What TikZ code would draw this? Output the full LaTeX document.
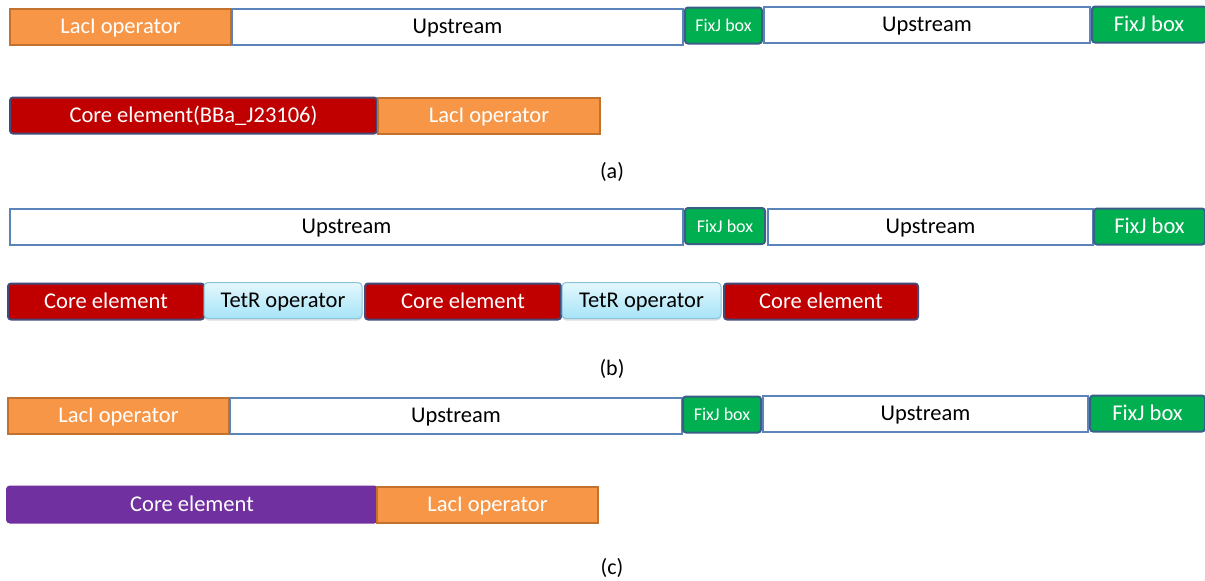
\documentclass[tikz,border=0pt]{standalone}
\usepackage{fontspec}
\setmainfont{Carlito}
\usetikzlibrary{shadows}
\definecolor{orfill}{HTML}{F79646}
\definecolor{ordraw}{HTML}{C2722E}
\definecolor{updraw}{HTML}{5A84BA}
\definecolor{grfill}{HTML}{00B050}
\definecolor{grdraw}{HTML}{3A5F86}
\definecolor{rdfill}{HTML}{C00000}
\definecolor{rddraw}{HTML}{424B78}
\definecolor{pufill}{HTML}{7030A0}
\definecolor{tetop}{HTML}{E4F7FD}
\definecolor{tebot}{HTML}{A6E4F7}
\definecolor{tedraw}{HTML}{8CC3D8}
\tikzset{
  x=1pt, y=-1pt,
  box/.style={inner sep=0pt, outer sep=0pt, line width=2pt, anchor=west,
    font=\fontsize{22.5}{26}\selectfont, text height=18pt, text depth=4pt},
  lac/.style={box, fill=orfill, draw=ordraw, text=white},
  up/.style={box, fill=white, draw=updraw, text=black},
  fixs/.style={box, fill=grfill, draw=grdraw, text=white, rounded corners=3pt,
    font=\fontsize{18}{21}\selectfont, text height=16pt, text depth=4pt},
  fixl/.style={box, fill=grfill, draw=grdraw, text=white, rounded corners=3pt},
  core/.style={box, fill=rdfill, draw=rddraw, text=white, rounded corners=3pt},
  pur/.style={box, fill=pufill, draw=pufill, text=white, rounded corners=3pt},
  tet/.style={box, top color=tetop, bottom color=tebot, draw=tedraw, text=black,
    rounded corners=4pt, line width=1pt,
    drop shadow={shadow xshift=0pt, shadow yshift=-2pt, opacity=0.25}},
  lbl/.style={inner sep=0pt, font=\fontsize{22}{25}\selectfont},
}
\begin{document}
\begin{tikzpicture}
\useasboundingbox (0,0) rectangle (1205,581);
% (a)
\node[lac, minimum width=221, minimum height=36] (a1) at (10,26.5) {LacI operator};
\node[up, minimum width=451, minimum height=36] (a2) at (232,26.5) {Upstream};
\node[fixs, minimum width=77, minimum height=36] (a3) at (685,25.5) {FixJ box};
\node[up, minimum width=326, minimum height=36] (a4) at (764,24.5) {Upstream};
\node[fixl, minimum width=114, minimum height=36] (a5) at (1092,24.5) {FixJ box};
\node[core, minimum width=367, minimum height=36] (a6) at (10,115.5) {Core element(BBa\_J23106)};
\node[lac, minimum width=222, minimum height=36] (a7) at (378,115.5) {LacI operator};
\node[lbl] (la) at (612,172) {(a)};
% (b)
\node[up, minimum width=673, minimum height=36] (b1) at (10,226.5) {Upstream};
\node[fixs, minimum width=80, minimum height=36] (b2) at (685,226) {FixJ box};
\node[up, minimum width=325, minimum height=36] (b3) at (768,226.5) {Upstream};
\node[fixl, minimum width=111, minimum height=36] (b4) at (1094,226.5) {FixJ box};
\node[core, minimum width=196, minimum height=36] (b5) at (8,301.5) {Core element};
\node[tet, minimum width=158, minimum height=36] (b6) at (204,300.5) {TetR operator};
\node[core, minimum width=196, minimum height=36] (b7) at (365,301.5) {Core element};
\node[tet, minimum width=159, minimum height=36] (b8) at (562,300.5) {TetR operator};
\node[core, minimum width=194, minimum height=36] (b9) at (724,301.5) {Core element};
\node[lbl] (lb) at (612,369) {(b)};
% (c)
\node[lac, minimum width=221, minimum height=36] (c1) at (8,415.5) {LacI operator};
\node[up, minimum width=452, minimum height=36] (c2) at (230,415.5) {Upstream};
\node[fixs, minimum width=78, minimum height=36] (c3) at (683,414.5) {FixJ box};
\node[up, minimum width=325, minimum height=36] (c4) at (763,413.5) {Upstream};
\node[fixl, minimum width=115, minimum height=36] (c5) at (1090,413.5) {FixJ box};
\node[pur, minimum width=370, minimum height=36] (c6) at (7,504.5) {Core element};
\node[lac, minimum width=221, minimum height=36] (c7) at (377,504.5) {LacI operator};
\node[lbl] (lc) at (612,568) {(c)};
\end{tikzpicture}
\end{document}
